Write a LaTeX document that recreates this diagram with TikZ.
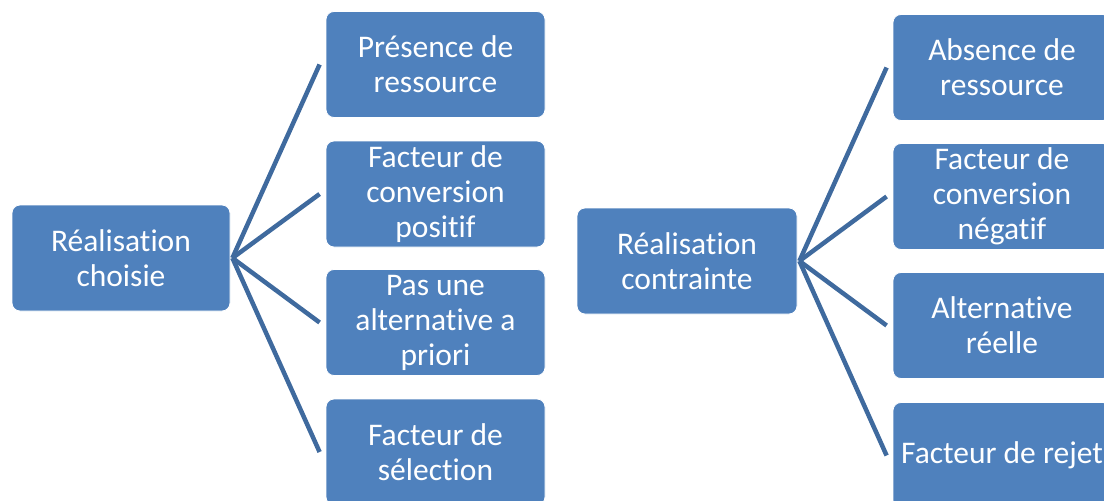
\documentclass[tikz,border=0pt]{standalone}
\usepackage{fontspec}
\setmainfont{Carlito}[Ligatures=NoCommon]
\definecolor{boxblue}{HTML}{4F81BD}
\definecolor{lineblue}{HTML}{3F6A9E}
\tikzset{
  box/.style={rectangle, rounded corners=8pt, fill=boxblue, draw=white, line width=0.8pt,
    text=white, align=center, inner sep=0pt, minimum height=106pt,
    font=\fontsize{31.5}{35}\selectfont},
  conn/.style={draw=lineblue, line width=4.5pt},
}
\begin{document}
\begin{tikzpicture}[x=1pt,y=-1pt]
\useasboundingbox (0,0) rectangle (1104,501);
\clip (0,0) rectangle (1104,501);
% left tree
\node[box, minimum width=218pt] (rl) at (121,258) {Réalisation\\choisie};
\node[box, minimum width=219pt] (l1) at (435.5,64.5) {Présence de\\ressource};
\node[box, minimum width=219pt] (l2) at (435.5,194) {Facteur de\\conversion\\positif};
\node[box, minimum width=219pt] (l3) at (435.5,322.5) {Pas une\\alternative a\\priori};
\node[box, minimum width=219pt] (l4) at (435.5,452) {Facteur de\\sélection};
% right tree
\node[box, minimum width=220pt] (rr) at (687,261) {Réalisation\\contrainte};
\node[box, minimum width=218pt] (r1) at (1002,67.5) {Absence de\\ressource};
\node[box, minimum width=218pt] (r2) at (1002,196.5) {Facteur de\\conversion\\négatif};
\node[box, minimum width=218pt] (r3) at (1002,325.5) {Alternative\\réelle};
\node[box, minimum width=218pt] (r4) at (1002,455.5) {Facteur de rejet};
% connectors
\foreach \c in {l1,l2,l3,l4}
  \draw[conn] ([xshift=2pt]rl.east) -- ([xshift=-6pt]\c.west);
\foreach \c in {r1,r2,r3,r4}
  \draw[conn] ([xshift=2pt]rr.east) -- ([xshift=-6pt]\c.west);
\end{tikzpicture}
\end{document}
